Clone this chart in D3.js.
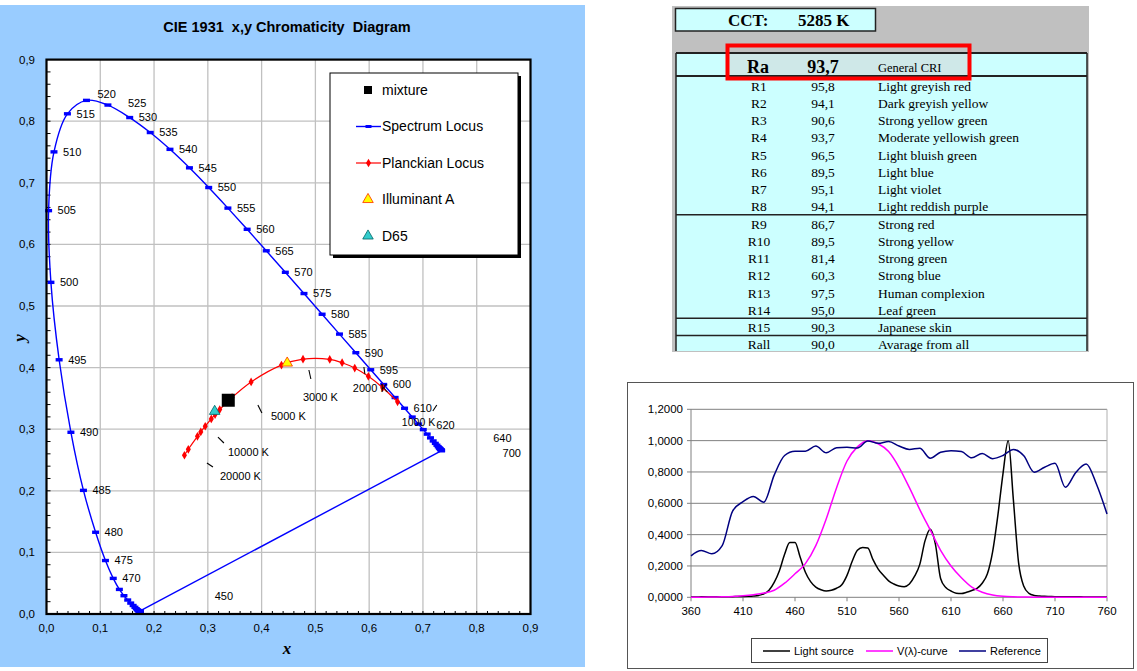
<!DOCTYPE html>
<html>
<head>
<meta charset="utf-8">
<script src="https://cdn.jsdelivr.net/npm/d3@7"></script>
<style>
  body { margin: 0; background: #fff; }
  svg { display: block; }
  text { font-family: "Liberation Sans", Arial, sans-serif; }
  .serif { font-family: "Liberation Serif", "Times New Roman", serif; }
</style>
</head>
<body>
<svg id="c" width="1137" height="671"></svg>
<script>
// ---------------- CIE 1931 chromaticity data ----------------
const locusWavelengths = [380,385,390,395,400,405,410,415,420,425,430,435,440,445,450,455,460,465,470,475,480,485,490,495,500,505,510,515,520,525,530,535,540,545,550,555,560,565,570,575,580,585,590,595,600,605,610,615,620,625,630,635,640,645,650,655,660,665,670,675,680,685,690,695,700];
const locusX = [0.1741,0.1740,0.1738,0.1736,0.1733,0.1730,0.1726,0.1721,0.1714,0.1703,0.1689,0.1669,0.1644,0.1611,0.1566,0.1510,0.1440,0.1355,0.1241,0.1096,0.0913,0.0687,0.0454,0.0235,0.0082,0.0039,0.0139,0.0389,0.0743,0.1142,0.1547,0.1929,0.2296,0.2658,0.3016,0.3373,0.3731,0.4087,0.4441,0.4788,0.5125,0.5448,0.5752,0.6029,0.6270,0.6482,0.6658,0.6801,0.6915,0.7006,0.7079,0.7140,0.7190,0.7230,0.7260,0.7283,0.7300,0.7311,0.7320,0.7327,0.7334,0.7340,0.7344,0.7346,0.7347];
const locusY = [0.0050,0.0050,0.0049,0.0049,0.0048,0.0048,0.0048,0.0048,0.0051,0.0058,0.0069,0.0086,0.0109,0.0138,0.0177,0.0227,0.0297,0.0399,0.0578,0.0868,0.1327,0.2007,0.2950,0.4127,0.5384,0.6548,0.7502,0.8120,0.8338,0.8262,0.8059,0.7816,0.7543,0.7243,0.6923,0.6589,0.6245,0.5896,0.5547,0.5202,0.4866,0.4544,0.4242,0.3965,0.3725,0.3514,0.3340,0.3197,0.3083,0.2993,0.2920,0.2859,0.2809,0.2770,0.2740,0.2717,0.2700,0.2689,0.2680,0.2673,0.2666,0.2660,0.2656,0.2654,0.2653];
const locusLabelled = [450,470,475,480,485,490,495,500,505,510,515,520,525,530,535,540,545,550,555,560,565,570,575,580,585,590,595,600,610,620,640,700];

const planckTemps = [1000,1200,1400,1600,1800,2000,2500,3000,4000,5000,6000,6500,7000,8000,9000,10000,15000,20000];
const planckX = [0.6528,0.6251,0.5985,0.5732,0.5497,0.5267,0.4770,0.4369,0.3805,0.3451,0.3221,0.3135,0.3064,0.2952,0.2869,0.2807,0.2637,0.2565];
const planckY = [0.3444,0.3674,0.3858,0.3993,0.4079,0.4133,0.4137,0.4041,0.3768,0.3516,0.3318,0.3237,0.3166,0.3048,0.2956,0.2884,0.2674,0.2577];

const mixtureXY = [0.338, 0.347];
const illuminantAXY = [0.4476, 0.4074];
const d65XY = [0.3127, 0.3290];

const tempLabelText = ["20000 K","10000 K","5000 K","3000 K","2000 K","1000 K"];
const tempLabelX = [0.3225,0.3374,0.4173,0.4768,0.5697,0.6608];
const tempLabelY = [0.2240,0.2630,0.3214,0.3523,0.3669,0.3117];
const tempTickX1 = [0.2983,0.3188,0.3931,0.4879,0.5902,0.7184];
const tempTickY1 = [0.2451,0.2873,0.3393,0.3961,0.4010,0.3295];
const tempTickX2 = [0.3095,0.3299,0.4005,0.4916,0.5920,0.7258];
const tempTickY2 = [0.2386,0.2776,0.3263,0.3815,0.3896,0.3393];

const chromaTicks = [0,0.1,0.2,0.3,0.4,0.5,0.6,0.7,0.8,0.9];
const legendNames = ["mixture","Spectrum Locus","Planckian Locus","Illuminant A","D65"];

// ---------------- Colour rendering table ----------------
const cctValue = 5285;
const raValue = 93.7;
const criCodes = ["R1","R2","R3","R4","R5","R6","R7","R8","R9","R10","R11","R12","R13","R14","R15","Rall"];
const criValues = [95.8,94.1,90.6,93.7,96.5,89.5,95.1,94.1,86.7,89.5,81.4,60.3,97.5,95.0,90.3,90.0];
const criNames = ["Light greyish red","Dark greyish yellow","Strong yellow green","Moderate yellowish green","Light bluish green","Light blue","Light violet","Light reddish purple","Strong red","Strong yellow","Strong green","Strong blue","Human complexion","Leaf green","Japanese skin","Avarage from all"];
const criGroupEnds = ["R8","R14","R15"];

// ---------------- Spectra ----------------
const wl5 = [360,365,370,375,380,385,390,395,400,405,410,415,420,425,430,435,440,445,450,455,460,465,470,475,480,485,490,495,500,505,510,515,520,525,530,535,540,545,550,555,560,565,570,575,580,585,590,595,600,605,610,615,620,625,630,635,640,645,650,655,660,665,670,675,680,685,690,695,700,705,710,715,720,725,730,735,740,745,750,755,760];
const lightSource = [0.002,0.002,0.003,0.003,0.004,0.004,0.004,0.004,0.004,0.005,0.005,0.006,0.008,0.012,0.022,0.045,0.095,0.170,0.275,0.350,0.350,0.255,0.160,0.100,0.065,0.048,0.040,0.045,0.058,0.080,0.140,0.230,0.300,0.318,0.315,0.240,0.180,0.140,0.105,0.085,0.072,0.068,0.085,0.135,0.210,0.360,0.435,0.340,0.120,0.062,0.040,0.026,0.024,0.032,0.043,0.057,0.090,0.150,0.290,0.520,0.790,1.000,0.620,0.220,0.070,0.025,0.012,0.008,0.006,0.005,0.004,0.004,0.003,0.003,0.003,0.003,0.002,0.002,0.002,0.002,0.002];
const wl10 = [360,370,380,390,400,410,420,430,440,450,460,470,480,490,500,510,520,530,540,550,560,570,580,590,600,610,620,630,640,650,660,670,680,690,700,710,720,730,740,750,760];
const vCurve = [0.001,0.001,0.002,0.003,0.005,0.010,0.017,0.027,0.045,0.090,0.150,0.215,0.330,0.500,0.700,0.870,0.960,1.000,0.980,0.930,0.830,0.700,0.560,0.430,0.300,0.200,0.125,0.065,0.032,0.014,0.006,0.003,0.002,0.001,0.001,0.001,0.001,0.001,0.001,0.001,0.001];
const reference = [0.265,0.298,0.278,0.330,0.550,0.610,0.643,0.607,0.780,0.905,0.932,0.932,0.965,0.922,0.955,0.957,0.953,0.998,0.983,0.994,0.966,0.944,0.951,0.888,0.926,0.936,0.930,0.890,0.918,0.885,0.905,0.944,0.903,0.798,0.830,0.855,0.702,0.797,0.851,0.720,0.532];
const specYTicks = [0,0.2,0.4,0.6,0.8,1.0,1.2];
const specXTicks = [360,410,460,510,560,610,660,710,760];
const specSeries = [
  {name: "Light source", x: wl5, y: lightSource, color: "#000000"},
  {name: "V(λ)-curve", x: wl10, y: vCurve, color: "#ff00ff"},
  {name: "Reference", x: wl10, y: reference, color: "#000080"}
];

const loc = d3.formatLocale({decimal: ",", thousands: ".", grouping: [3], currency: ["", ""]});
const f1 = loc.format(".1f"), f4 = loc.format(".4f");
const svg = d3.select("#c");

// =============== Chromaticity diagram ===============
svg.append("rect").attr("x", 0).attr("y", 5).attr("width", 585).attr("height", 662).attr("fill", "#99ccff");

const xS = d3.scaleLinear().domain([0, 0.9]).range([46.5, 530.5]);
const yS = d3.scaleLinear().domain([0, 0.9]).range([614, 59.6]);
const cie = svg.append("g");

cie.append("rect").attr("x", xS(0)).attr("y", yS(0.9))
  .attr("width", xS(0.9) - xS(0)).attr("height", yS(0) - yS(0.9)).attr("fill", "#fff");

// grid
cie.append("g").selectAll("line").data(chromaTicks.slice(1, -1)).join("line")
  .attr("x1", d => xS(d)).attr("x2", d => xS(d)).attr("y1", yS(0)).attr("y2", yS(0.9))
  .attr("stroke", "#c0c0c0").attr("stroke-width", 1.3);
cie.append("g").selectAll("line").data(chromaTicks.slice(1, -1)).join("line")
  .attr("y1", d => yS(d)).attr("y2", d => yS(d)).attr("x1", xS(0)).attr("x2", xS(0.9))
  .attr("stroke", "#c0c0c0").attr("stroke-width", 1.3);

// minor ticks along the axes
const minor = d3.range(0.02, 0.9, 0.02);
cie.append("g").selectAll("line").data(minor).join("line")
  .attr("x1", xS(0)).attr("x2", xS(0) + 4).attr("y1", d => yS(d)).attr("y2", d => yS(d))
  .attr("stroke", "#000").attr("stroke-width", 1);
cie.append("g").selectAll("line").data(minor).join("line")
  .attr("y1", yS(0)).attr("y2", yS(0) - 3).attr("x1", d => xS(d)).attr("x2", d => xS(d))
  .attr("stroke", "#000").attr("stroke-width", 1);

// tick labels
cie.append("g").selectAll("text").data(chromaTicks).join("text")
  .attr("x", 35).attr("y", d => yS(d)).attr("dy", "0.35em").attr("text-anchor", "end")
  .attr("font-size", 11.5).text(d => f1(d));
cie.append("g").selectAll("text").data(chromaTicks).join("text")
  .attr("x", d => xS(d)).attr("y", 628).attr("dy", "0.35em").attr("text-anchor", "middle")
  .attr("font-size", 11.5).text(d => f1(d));

// axis titles and chart title
cie.append("text").attr("class", "serif").attr("x", 287).attr("y", 648).attr("dy", "0.35em")
  .attr("text-anchor", "middle").attr("font-size", 17).attr("font-weight", "bold").attr("font-style", "italic").text("x");
cie.append("text").attr("class", "serif").attr("transform", "translate(19,338) rotate(-90)")
  .attr("dy", "0.35em").attr("text-anchor", "middle").attr("font-size", 17)
  .attr("font-weight", "bold").attr("font-style", "italic").text("y");
cie.append("text").attr("x", 287).attr("y", 27).attr("dy", "0.35em").attr("text-anchor", "middle")
  .attr("font-size", 14.5).attr("font-weight", "bold").text("CIE 1931\u00a0\u00a0x,y Chromaticity\u00a0 Diagram");

// spectrum locus
const locusPts = locusWavelengths.map((w, i) => ({w, x: locusX[i], y: locusY[i]}));
const smooth = d3.line().x(d => xS(d.x)).y(d => yS(d.y)).curve(d3.curveCatmullRom.alpha(0.5));
cie.append("path").attr("d", smooth(locusPts)).attr("fill", "none").attr("stroke", "#0000ff").attr("stroke-width", 1.4);
const purple = [locusPts[locusPts.length - 1], locusPts[0]];
cie.append("path").attr("d", d3.line().x(d => xS(d.x)).y(d => yS(d.y))(purple))
  .attr("fill", "none").attr("stroke", "#0000ff").attr("stroke-width", 1.4);
cie.append("g").selectAll("rect").data(locusPts).join("rect")
  .attr("x", d => xS(d.x) - 3.5).attr("y", d => yS(d.y) - 1.7).attr("width", 7).attr("height", 3.4)
  .attr("fill", "#0000ff");

// wavelength labels
const nudge = {450: [84, -7], 520: [11, -6], 525: [20, -2], 620: [18, 1], 640: [60, -3], 700: [61, 3]};
cie.append("g").selectAll("text").data(locusPts.filter(d => locusLabelled.includes(d.w))).join("text")
  .attr("x", d => xS(d.x) + (nudge[d.w] ? nudge[d.w][0] : 9))
  .attr("y", d => yS(d.y) + (nudge[d.w] ? nudge[d.w][1] : 0))
  .attr("dy", "0.35em").attr("font-size", 11).attr("fill", "#000").text(d => d.w);

// Planckian locus
const planckPts = planckTemps.map((t, i) => ({t, x: planckX[i], y: planckY[i]}));
cie.append("path").attr("d", smooth(planckPts)).attr("fill", "none").attr("stroke", "#ff0000").attr("stroke-width", 1.2);
cie.append("g").selectAll("path").data(planckPts).join("path")
  .attr("transform", d => `translate(${xS(d.x)},${yS(d.y)})`)
  .attr("d", d3.symbol(d3.symbolDiamond, 22)).attr("fill", "#ff0000");

// temperature annotations
const tempIdx = d3.range(tempLabelText.length);
cie.append("g").selectAll("line").data(tempIdx).join("line")
  .attr("x1", i => xS(tempTickX1[i])).attr("y1", i => yS(tempTickY1[i]))
  .attr("x2", i => xS(tempTickX2[i])).attr("y2", i => yS(tempTickY2[i]))
  .attr("stroke", "#000").attr("stroke-width", 1.1);
cie.append("g").selectAll("text").data(tempIdx).join("text")
  .attr("x", i => xS(tempLabelX[i])).attr("y", i => yS(tempLabelY[i])).attr("dy", "0.35em")
  .attr("font-size", i => i === tempIdx.length - 1 ? 10.5 : 11).text(i => tempLabelText[i]);

// mixture, D65, illuminant A
const tri = d3.symbol(d3.symbolTriangle, 48);
cie.append("rect").attr("x", xS(mixtureXY[0]) - 6.5).attr("y", yS(mixtureXY[1]) - 6.5)
  .attr("width", 13).attr("height", 13).attr("fill", "#000");
cie.append("path").attr("transform", `translate(${xS(d65XY[0])},${yS(d65XY[1])})`)
  .attr("d", tri()).attr("fill", "#33cccc").attr("stroke", "#006666").attr("stroke-width", 0.8);
cie.append("path").attr("transform", `translate(${xS(illuminantAXY[0])},${yS(illuminantAXY[1])})`)
  .attr("d", tri()).attr("fill", "#ffff00").attr("stroke", "#ff4400").attr("stroke-width", 0.9);

// plot frame
cie.append("rect").attr("x", xS(0)).attr("y", yS(0.9))
  .attr("width", xS(0.9) - xS(0)).attr("height", yS(0) - yS(0.9))
  .attr("fill", "none").attr("stroke", "#000").attr("stroke-width", 2.2);

// legend
const lg = cie.append("g").attr("transform", "translate(330,73)");
lg.append("rect").attr("x", 3).attr("y", 3).attr("width", 188).attr("height", 182).attr("fill", "#000");
lg.append("rect").attr("width", 188).attr("height", 182).attr("fill", "#fff").attr("stroke", "#000").attr("stroke-width", 1);
const lgY = d3.scaleLinear().domain([0, 4]).range([17, 163]);
lg.selectAll("text").data(legendNames).join("text")
  .attr("x", 52).attr("y", (d, i) => lgY(i)).attr("dy", "0.35em").attr("font-size", 14).text(d => d);
lg.append("rect").attr("x", 34).attr("y", lgY(0) - 4).attr("width", 8).attr("height", 8).attr("fill", "#000");
lg.append("line").attr("x1", 26).attr("x2", 51).attr("y1", lgY(1)).attr("y2", lgY(1)).attr("stroke", "#0000ff").attr("stroke-width", 1.4);
lg.append("rect").attr("x", 35.5).attr("y", lgY(1) - 1.5).attr("width", 6).attr("height", 3).attr("fill", "#0000ff");
lg.append("line").attr("x1", 26).attr("x2", 51).attr("y1", lgY(2)).attr("y2", lgY(2)).attr("stroke", "#ff0000").attr("stroke-width", 1.2);
lg.append("path").attr("transform", `translate(38.5,${lgY(2)})`).attr("d", d3.symbol(d3.symbolDiamond, 22)()).attr("fill", "#ff0000");
lg.append("path").attr("transform", `translate(38,${lgY(3)})`).attr("d", tri()).attr("fill", "#ffff00").attr("stroke", "#ff4400").attr("stroke-width", 0.9);
lg.append("path").attr("transform", `translate(38,${lgY(4)})`).attr("d", tri()).attr("fill", "#33cccc").attr("stroke", "#006666").attr("stroke-width", 0.8);

// =============== Colour rendering table ===============
const tb = svg.append("g");
tb.append("rect").attr("x", 672).attr("y", 6).attr("width", 417).attr("height", 346).attr("fill", "#c0c0c0");
// CCT box
tb.append("rect").attr("x", 675.5).attr("y", 8.5).attr("width", 200).attr("height", 22.5)
  .attr("fill", "#ccffff").attr("stroke", "#222").attr("stroke-width", 1.5);
tb.append("text").attr("class", "serif").attr("x", 728).attr("y", 20).attr("dy", "0.35em")
  .attr("font-size", 17).attr("font-weight", "bold").text("CCT:");
tb.append("text").attr("class", "serif").attr("x", 798).attr("y", 20).attr("dy", "0.35em")
  .attr("font-size", 17).attr("font-weight", "bold").text(`${cctValue} K`);

// table body
const rowY = d3.scaleLinear().domain([0, 1]).range([86, 103.25]);
tb.append("rect").attr("x", 676).attr("y", 53).attr("width", 411).attr("height", 298).attr("fill", "#ccffff");
// highlighted Ra row
tb.append("rect").attr("x", 728).attr("y", 53).attr("width", 241).attr("height", 23).attr("fill", "#cfe8e8");
tb.append("line").attr("x1", 676).attr("x2", 1087).attr("y1", 53).attr("y2", 53).attr("stroke", "#222").attr("stroke-width", 2);
tb.append("line").attr("x1", 676).attr("x2", 1087).attr("y1", 76).attr("y2", 76).attr("stroke", "#222").attr("stroke-width", 2);
tb.append("line").attr("x1", 676).attr("x2", 676).attr("y1", 53).attr("y2", 351).attr("stroke", "#222").attr("stroke-width", 1.5);
tb.append("line").attr("x1", 1087).attr("x2", 1087).attr("y1", 53).attr("y2", 351).attr("stroke", "#222").attr("stroke-width", 1.5);
tb.selectAll(".sep").data(criGroupEnds).join("line").attr("class", "sep")
  .attr("x1", 676).attr("x2", 1087)
  .attr("y1", d => rowY(criCodes.indexOf(d)) + 8).attr("y2", d => rowY(criCodes.indexOf(d)) + 8)
  .attr("stroke", "#222").attr("stroke-width", 1.5);

tb.append("text").attr("class", "serif").attr("x", 758).attr("y", 67).attr("dy", "0.35em").attr("text-anchor", "middle")
  .attr("font-size", 18).attr("font-weight", "bold").text("Ra");
tb.append("text").attr("class", "serif").attr("x", 823).attr("y", 67).attr("dy", "0.35em").attr("text-anchor", "middle")
  .attr("font-size", 18).attr("font-weight", "bold").text(f1(raValue));
tb.append("text").attr("class", "serif").attr("x", 878).attr("y", 68).attr("dy", "0.35em")
  .attr("font-size", 12.5).text("General CRI");

const rows = tb.selectAll(".row").data(criCodes).join("g").attr("class", "row")
  .attr("transform", (d, i) => `translate(0,${rowY(i)})`);
rows.append("text").attr("class", "serif").attr("x", 759).attr("dy", "0.35em").attr("text-anchor", "middle")
  .attr("font-size", 13.5).text(d => d);
rows.append("text").attr("class", "serif").attr("x", 823).attr("dy", "0.35em").attr("text-anchor", "middle")
  .attr("font-size", 13.5).text((d, i) => f1(criValues[i]));
rows.append("text").attr("class", "serif").attr("x", 878).attr("dy", "0.35em")
  .attr("font-size", 13.5).text((d, i) => criNames[i]);

// red highlight frame around the general index
tb.append("rect").attr("x", 727.5).attr("y", 45.5).attr("width", 242).attr("height", 33)
  .attr("fill", "none").attr("stroke", "#ff0000").attr("stroke-width", 4);

// =============== Spectral power distribution chart ===============
const sp = svg.append("g");
sp.append("rect").attr("x", 627.5).attr("y", 382.5).attr("width", 506).attr("height", 286)
  .attr("fill", "#fff").attr("stroke", "#555").attr("stroke-width", 1);
const sx = d3.scaleLinear().domain([360, 760]).range([691, 1107]);
const sy = d3.scaleLinear().domain([0, 1.2]).range([597.3, 409.3]);

sp.append("g").selectAll("line").data(specYTicks).join("line")
  .attr("x1", sx(360)).attr("x2", sx(760)).attr("y1", d => sy(d)).attr("y2", d => sy(d))
  .attr("stroke", "#808080").attr("stroke-width", 1);
sp.append("line").attr("x1", sx(360)).attr("x2", sx(360)).attr("y1", sy(0)).attr("y2", sy(1.2)).attr("stroke", "#808080");
sp.append("line").attr("x1", sx(760)).attr("x2", sx(760)).attr("y1", sy(0)).attr("y2", sy(1.2)).attr("stroke", "#b0b0b0");
sp.append("g").selectAll("line").data(specYTicks).join("line")
  .attr("x1", sx(360) - 4).attr("x2", sx(360)).attr("y1", d => sy(d)).attr("y2", d => sy(d)).attr("stroke", "#808080");
sp.append("g").selectAll("line").data(specXTicks).join("line")
  .attr("x1", d => sx(d)).attr("x2", d => sx(d)).attr("y1", sy(0)).attr("y2", sy(0) + 4).attr("stroke", "#808080");
sp.append("g").selectAll("text").data(specYTicks).join("text")
  .attr("x", 683).attr("y", d => sy(d)).attr("dy", "0.35em").attr("text-anchor", "end")
  .attr("font-size", 11.5).text(d => f4(d));
sp.append("g").selectAll("text").data(specXTicks).join("text")
  .attr("x", d => sx(d)).attr("y", 611).attr("dy", "0.35em").attr("text-anchor", "middle")
  .attr("font-size", 11.5).text(d => d);

const specLine = d3.line().curve(d3.curveMonotoneX);
specSeries.forEach(s => {
  sp.append("path")
    .attr("d", specLine(s.x.map((w, i) => [sx(w), sy(s.y[i])])))
    .attr("fill", "none").attr("stroke", s.color).attr("stroke-width", 1.5);
});

// legend
const sl = sp.append("g");
sl.append("rect").attr("x", 751.5).attr("y", 638.5).attr("width", 296).attr("height", 24)
  .attr("fill", "#fff").attr("stroke", "#444").attr("stroke-width", 1);
const legX = [763, 866, 959];
specSeries.forEach((s, i) => {
  sl.append("line").attr("x1", legX[i]).attr("x2", legX[i] + 27).attr("y1", 651).attr("y2", 651)
    .attr("stroke", s.color).attr("stroke-width", 1.5);
  sl.append("text").attr("x", legX[i] + 31).attr("y", 651).attr("dy", "0.35em")
    .attr("font-size", 11).text(s.name);
});
</script>
</body>
</html>
